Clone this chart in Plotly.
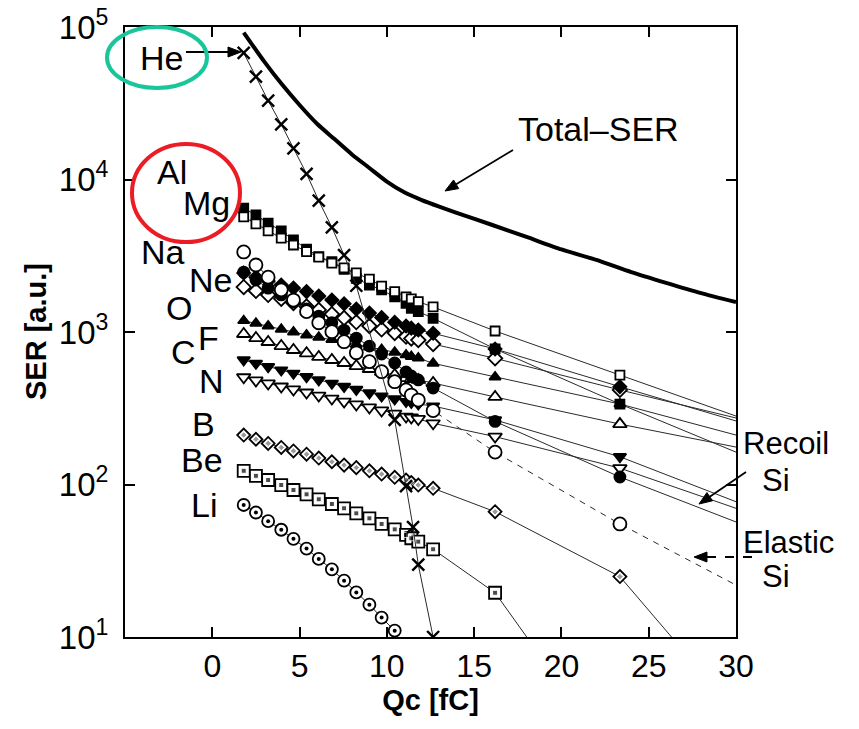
import math
import plotly.graph_objects as go

# ---------------- data ----------------
x_grid = [1.8, 2.5, 3.2, 3.95, 4.65, 5.4, 6.1, 6.85, 7.55, 8.25, 9.0, 9.7,
          10.45, 11.1, 11.4, 11.8, 12.65]
x_long = x_grid + [16.2, 23.35, 30.0]

open_square = [5680, 5110, 4600, 4130, 3720, 3370, 3100, 2830, 2630, 2440, 2220, 2000,
               1840, 1700, 1650, 1580, 1460, 1015, 522, 281]
filled_square = [6500, 5850, 5180, 4600, 4010, 3500, 3120, 2890, 2580, 2250, 2030, 1890,
                 1700, 1540, 1430, 1360, 1230, 774, 337, 163]
open_circle = [3350, 2750, 2290, 1890, 1620, 1360, 1150, 1005, 864, 731, 639, 549,
               472, 417, 386, 358, 305, 163, 55.1, 21.9]
filled_circle = [2470, 2190, 1940, 1750, 1570, 1415, 1270, 1150, 1030, 913, 809, 717,
                 626, 547, 515, 485, 429, 259, 112, 56.8]
filled_diamond = [2440, 2290, 2160, 2030, 1940, 1840, 1720, 1620, 1530, 1415, 1330, 1245,
                  1160, 1095, 1060, 1030, 981, 774, 438, 261]
open_diamond = [1970, 1860, 1750, 1650, 1550, 1470, 1395, 1310, 1235, 1160, 1095, 1040,
                985, 932, 907, 886, 834, 672, 417, 273]
filled_tri_up = [1186, 1140, 1095, 1041, 1000, 956, 923, 893, 860, 828, 797, 768,
                 736, 707, 691, 675, 623, 507, 337, 211]
open_tri_up = [970, 913, 860, 809, 762, 725, 686, 655, 626, 598, 572, 547,
               522, 499, 492, 485, 463, 375, 249, 176]
filled_tri_down = [655, 623, 592, 563, 536, 509, 485, 461, 439, 420, 398, 380,
                   364, 350, 345, 337, 327, 265, 152, 77.1]
open_tri_down = [505, 481, 460, 439, 420, 401, 383, 366, 350, 335, 320, 306,
                 292, 279, 275, 269, 252, 206, 128, 69.8]
boron = [211, 198, 186, 175, 166, 158, 149, 141, 134, 129, 123, 117,
         111.5, 107, 103, 99.2, 94.4, 66.3, 24.9, 3.2]
be_x = x_grid + [16.2, 23.35]
beryllium = [123, 114, 107, 99.2, 92.0, 86.2, 80.0, 74.5, 69.8, 64.7, 60.0, 55.1,
             50.8, 46.7, 44.4, 42.2, 37.6, 19.5, 1.4]
li_x = x_grid[:13]
lithium = [73.4, 65.5, 57.5, 50.5, 44.0, 38.0, 32.5, 27.8, 23.4, 19.6, 16.3, 13.4, 11.0]
he_x = [1.8, 2.5, 3.2, 3.95, 4.65, 5.4, 6.1, 6.85, 7.55, 8.25, 10.45, 11.1, 11.5, 11.8, 12.65]
helium = [67600, 47200, 32900, 23000, 16000, 10900, 7260, 4860, 3190, 2010,
          265, 97.7, 52.6, 29.8, 10]
total_x = [1.8, 3, 4, 5, 6, 7, 8, 9, 10, 11, 12, 13, 14, 16, 18, 20, 22, 24, 26, 28, 30]
total_ser = [91800, 58800, 41900, 30800, 23200, 18400, 14600, 11900, 9690, 8240, 7330,
             6640, 6050, 5050, 4200, 3480, 2970, 2470, 2100, 1800, 1570]

x_ticks = [0, 5, 10, 15, 20, 25, 30]
y_ticks = [10, 100, 1000, 10000, 100000]
y_ticktext = ["10<sup>1</sup>", "10<sup>2</sup>", "10<sup>3</sup>", "10<sup>4</sup>", "10<sup>5</sup>"]

# ---------------- figure ----------------
LINE = "#2a2a2a"
fig = go.Figure()


def sizes(n_total, n_visible, s):
    return [s] * n_visible + [0] * (n_total - n_visible)


def add_series(x, y, symbol, fill, size, n_visible=None, dash="solid", lw=1.0):
    if n_visible is None:
        n_visible = len(x)
    fig.add_trace(go.Scatter(
        x=x, y=y, mode="lines+markers",
        line=dict(color=LINE, width=lw, dash=dash),
        marker=dict(symbol=symbol, color=fill, size=sizes(len(x), n_visible, size),
                    line=dict(color="black", width=1.8), opacity=1),
        hoverinfo="skip"))


# lowest first
add_series(li_x, lithium, "circle", "white", 12)
fig.add_trace(go.Scatter(x=li_x, y=lithium, mode="markers",
                         marker=dict(symbol="circle", color="black", size=4), hoverinfo="skip"))
add_series(be_x, beryllium, "square", "white", 12, n_visible=18)
fig.add_trace(go.Scatter(x=be_x, y=beryllium, mode="markers",
                         marker=dict(symbol="square", color="black",
                                     size=sizes(len(be_x), 18, 5)), hoverinfo="skip"))
add_series(x_long, boron, "diamond", "white", 10, n_visible=19)
fig.add_trace(go.Scatter(x=x_long, y=boron, mode="markers",
                         marker=dict(symbol="diamond", color="#707070",
                                     size=sizes(len(x_long), 19, 5)), hoverinfo="skip"))

add_series(x_long, open_tri_down, "triangle-down", "white", 12, n_visible=19)
add_series(x_long, filled_tri_down, "triangle-down", "black", 11, n_visible=19)
add_series(x_long, open_tri_up, "triangle-up", "white", 12, n_visible=19)
add_series(x_long, filled_tri_up, "triangle-up", "black", 10, n_visible=19)
add_series(x_long, open_diamond, "diamond", "white", 11, n_visible=19)
add_series(x_long, filled_diamond, "diamond", "black", 10, n_visible=19)
add_series(x_long, filled_circle, "circle", "black", 11, n_visible=19)
add_series(x_long, open_circle, "circle", "white", 13, n_visible=19, dash="6px,6px")
add_series(x_long, filled_square, "square", "black", 9, n_visible=19)
add_series(x_long, open_square, "square", "white", 9, n_visible=19)

# He
fig.add_trace(go.Scatter(x=he_x, y=helium, mode="lines+markers",
                         line=dict(color=LINE, width=1.0),
                         marker=dict(symbol="x-thin", size=12, color="black",
                                     line=dict(color="black", width=2.4)),
                         hoverinfo="skip"))
# Total SER
fig.add_trace(go.Scatter(x=total_x, y=total_ser, mode="lines",
                         line=dict(color="black", width=4, shape="spline", smoothing=0.6),
                         hoverinfo="skip"))

# ---------------- annotations ----------------
# plot area in screen pixels (the page adds an 8 px body margin)
OFF = 8
L, R, T, B = 125, 736, 27, 637
W, H = 859 - OFF, 729 - OFF


def px(xp):
    return (xp - L) / (R - L)


def py(yp):
    return (B - yp) / (B - T)


FONT = "Liberation Sans, Arial, Helvetica, sans-serif"
labels = [("He", 161, 58), ("Al", 172, 172), ("Mg", 206, 203), ("Na", 163, 252),
          ("Ne", 210, 280), ("O", 179, 308), ("F", 208, 338), ("C", 183, 352),
          ("N", 211, 381), ("B", 203, 424), ("Be", 202, 460), ("Li", 204, 505),
          ("Total\u2013SER", 598, 129)]
annotations = []
for txt, xx, yy in labels:
    annotations.append(dict(text=txt, x=px(xx), y=py(yy), xref="paper", yref="paper",
                            xanchor="center", yanchor="middle", showarrow=False,
                            font=dict(size=34, family=FONT, color="black")))
side_labels = [("Recoil", 741, 444), ("Si", 760, 480), ("Elastic", 741, 542), ("Si", 760, 576)]
for txt, xx, yy in side_labels:
    annotations.append(dict(text=txt, x=px(xx), y=py(yy), xref="paper", yref="paper",
                            xanchor="left", yanchor="middle", showarrow=False,
                            font=dict(size=31, family=FONT, color="black")))
# y-axis title
annotations.append(dict(text="<b>SER [a.u.]</b>", textangle=-90, x=px(36), y=py(332),
                        xref="paper", yref="paper", xanchor="center", yanchor="middle",
                        showarrow=False, font=dict(size=29, family=FONT, color="black")))

shapes = []


def arrow(tx, ty, hx, hy, dash="solid", head=13, half=5):
    d = math.hypot(hx - tx, hy - ty)
    ux, uy = (hx - tx) / d, (hy - ty) / d
    bx, by = hx - ux * head, hy - uy * head
    shapes.append(dict(type="line", xref="paper", yref="paper",
                       x0=px(tx), y0=py(ty), x1=px(bx), y1=py(by),
                       line=dict(color="black", width=1.8, dash=dash)))
    p1 = (bx - uy * half, by + ux * half)
    p2 = (bx + uy * half, by - ux * half)
    path = "M {:.4f} {:.4f} L {:.4f} {:.4f} L {:.4f} {:.4f} Z".format(
        px(hx), py(hy), px(p1[0]), py(p1[1]), px(p2[0]), py(p2[1]))
    shapes.append(dict(type="path", xref="paper", yref="paper", path=path,
                       fillcolor="black", line=dict(color="black", width=1)))


arrow(186, 52, 241, 52)
arrow(513, 150, 445, 191)
arrow(746, 472, 699, 504)
arrow(752, 557, 694, 557, dash="dash")

shapes += [
    dict(type="circle", xref="paper", yref="paper", x0=px(107), y0=py(27), x1=px(207), y1=py(88),
         line=dict(color="#1BC59A", width=4)),
    dict(type="circle", xref="paper", yref="paper", x0=px(132), y0=py(144), x1=px(240), y1=py(242),
         line=dict(color="#EC1C24", width=4)),
]

fig.update_layout(
    width=W, height=H,
    margin=dict(l=L - OFF, r=859 - R, t=T - OFF, b=729 - B, autoexpand=False),
    paper_bgcolor="white", plot_bgcolor="white",
    showlegend=False,
    font=dict(family=FONT, color="black"),
    annotations=annotations, shapes=shapes,
)
fig.update_xaxes(range=[-5, 30], tickvals=x_ticks, ticks="inside", ticklen=10, tickwidth=1.5,
                 tickcolor="black", showline=True, linewidth=2, linecolor="black",
                 mirror="ticks", showgrid=False, zeroline=False, automargin=False,
                 tickfont=dict(size=32, family=FONT), ticklabelstandoff=0,
                 ticklabeloverflow="allow",
                 title=dict(text="<b>Qc [fC]</b>", font=dict(size=29, family=FONT), standoff=4))
fig.update_yaxes(type="log", range=[1, 5], tickvals=y_ticks, ticktext=y_ticktext,
                 ticks="inside", ticklen=10, tickwidth=1.5, tickcolor="black",
                 showline=True, linewidth=2, linecolor="black", mirror="ticks",
                 showgrid=False, zeroline=False, automargin=False,
                 tickfont=dict(size=33, family=FONT), ticklabelstandoff=8,
                 ticklabeloverflow="allow")

fig.write_html("out.html")
